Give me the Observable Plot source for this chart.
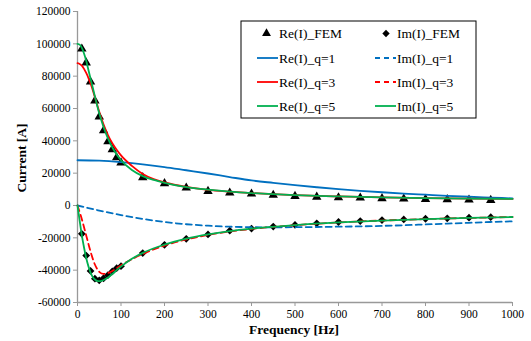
<!DOCTYPE html>
<html><head><meta charset="utf-8">
<script src="https://cdn.jsdelivr.net/npm/d3@7"></script>
<script src="https://cdn.jsdelivr.net/npm/@observablehq/plot@0.6"></script>
<style>
body{margin:0;background:#fff;}
#chart{position:relative;width:531px;height:341px;}
#chart svg, #chart svg text{font-family:'Liberation Serif', Tinos, 'Times New Roman', 'DejaVu Serif', serif;}
</style></head>
<body><div id="chart"></div>
<script>
// ---- data ----
const xTicks = [0,100,200,300,400,500,600,700,800,900,1000];
const yTicks = [-60000,-40000,-20000,0,20000,40000,60000,80000,100000,120000];

const fFEM  = [10,20,30,40,50,60,70,80,90,100,150,200,250,300,350,400,450,500,550,600,650,700,750,800,850,900,950];
const reFEM = [96900,88300,76500,64800,54900,46300,39500,34600,29600,26500,17300,13600,10900,8800,7800,7200,6400,5700,5300,4900,4700,4300,4100,3900,3700,3500,3300];
const imFEM = [-17500,-31000,-40500,-45300,-46300,-45000,-43000,-40800,-38800,-37500,-29400,-24300,-20600,-17900,-15600,-14300,-13000,-12000,-11000,-10200,-9600,-9000,-8600,-8200,-7900,-7500,-7200];

const fQ1  = [0,50,100,150,200,250,300,350,400,450,500,550,600,650,700,750,800,850,900,950,1000];
const reQ1 = [28000,27700,26800,25500,23800,21800,19800,17600,15500,14000,12600,11300,10100,9100,8200,7400,6700,6000,5400,4900,4400];
const imQ1 = [0,-3100,-5900,-8300,-10200,-11600,-12500,-13100,-13400,-13500,-13400,-13300,-13100,-12900,-12600,-12200,-11700,-11200,-10700,-10200,-9800];

const fReQ3 = [0,5,10,15,20,25,30,35,40,45,50,60,70,80,90,100,125,150,175,200,250,300,350,400,500,600,700,800,900,1000];
const reQ3  = [88000,87500,86500,84500,82000,79000,75500,71500,67000,62500,58000,50000,43500,38500,34500,31000,24500,19500,16300,14300,11500,9700,8600,7700,6400,5600,5000,4600,4300,4100];
const fImQ3 = [0,10,20,30,40,50,60,70,80,90,100,125,150,200,250,300,400,500,600,700,800,900,1000];
const imQ3  = [0,-8500,-18500,-28500,-36500,-41000,-42300,-41800,-40500,-38800,-37000,-33200,-30000,-24800,-21000,-18200,-14500,-12200,-10500,-9300,-8400,-7700,-7100];

const fReQ5 = [0,5,10,15,20,25,30,35,40,45,50,60,70,80,90,100,125,150,175,200,250,300,350,400,500,600,700,800,900,1000];
const reQ5  = [100000,99500,97500,94000,89500,84000,78500,73000,67500,62000,57000,48500,41500,36000,31500,28000,22000,18200,15800,14000,11300,9800,8600,7700,6400,5600,5000,4600,4300,4100];
const fImQ5 = [0,5,10,15,20,25,30,35,40,45,50,55,60,70,80,90,100,125,150,200,250,300,350,400,500,600,700,800,900,1000];
const imQ5  = [0,-9500,-18500,-26000,-32500,-37500,-41500,-44200,-45800,-46600,-46800,-46600,-46100,-44500,-42400,-40000,-37800,-33000,-29300,-24200,-20500,-17800,-15800,-14300,-12100,-10500,-9300,-8400,-7700,-7100];

const legendLabels = ["Re(I)_FEM","Im(I)_FEM","Re(I)_q=1","Im(I)_q=1","Re(I)_q=3","Im(I)_q=3","Re(I)_q=5","Im(I)_q=5"];

// ---- build ----
const BLUE = "#0070C0", RED = "#FF0000", GREEN = "#00B050";
const pts = (fs, vs) => fs.map((f,i) => ({f, v: vs[i]}));
const series = [
  {key:"Re(I)_q=1", data: pts(fQ1, reQ1), color: BLUE, dash: null},
  {key:"Im(I)_q=1", data: pts(fQ1, imQ1), color: BLUE, dash: "6,4"},
  {key:"Re(I)_q=3", data: pts(fReQ3, reQ3), color: RED, dash: null},
  {key:"Im(I)_q=3", data: pts(fImQ3, imQ3), color: RED, dash: "6,4"},
  {key:"Re(I)_q=5", data: pts(fReQ5, reQ5), color: GREEN, dash: null},
  {key:"Im(I)_q=5", data: pts(fImQ5, imQ5), color: GREEN, dash: null}
];
const FONT = "'Liberation Serif', Tinos, 'Times New Roman', 'DejaVu Serif', serif";

const plot = Plot.plot({
  width: 531, height: 341,
  marginLeft: 77, marginRight: 19, marginTop: 11, marginBottom: 39,
  style: {fontFamily: FONT, fontSize: "11.5px", color: "#000", background: "#fff"},
  x: {domain: [0,1000]},
  y: {domain: [-60000,120000]},
  marks: [
    Plot.axisX({ticks: xTicks, tickFormat: d => String(d), tickSize: 4, stroke: "#999", fill: "#000", label: null, tickPadding: 3}),
    Plot.axisY({ticks: yTicks, tickFormat: d => String(d), tickSize: 4, stroke: "#999", fill: "#000", label: null, tickPadding: 3}),
    Plot.ruleX([0], {stroke: "#999", strokeWidth: 1.3}),
    Plot.ruleY([-60000], {stroke: "#999", strokeWidth: 1.3}),
    Plot.dot(pts(fFEM, reFEM), {x: "f", y: "v", symbol: "triangle", r: 3.5, fill: "#000", stroke: null}),
    Plot.dot(pts(fFEM, imFEM), {x: "f", y: "v", symbol: "diamond2", r: 3.5, fill: "#000", stroke: null}),
    ...series.map(s => Plot.line(s.data, {x: "f", y: "v", stroke: s.color, strokeWidth: 1.8, strokeDasharray: s.dash, curve: "monotone-x"}))
  ]
});
document.getElementById("chart").appendChild(plot);

// ---- axis titles & legend ----
const svg = d3.select(plot);
svg.append("text").attr("x", 294).attr("y", 334).attr("text-anchor","middle")
  .attr("font-size","13.5px").attr("font-weight","bold").attr("fill","#000")
  .text("Frequency [Hz]");
svg.append("text").attr("transform","translate(26,158) rotate(-90)").attr("text-anchor","middle")
  .attr("font-size","13.5px").attr("font-weight","bold").attr("fill","#000")
  .text("Current [A]");

const lg = svg.append("g").attr("text-anchor","start");
lg.append("rect").attr("x",241).attr("y",21).attr("width",235).attr("height",97)
  .attr("fill","#fff").attr("stroke","#000").attr("stroke-width",1);
const rowsY = [33.5, 58, 82, 106];
const cols = [{sym: 266.5, l0: 257, l1: 278, tx: 279}, {sym: 386, l0: 375, l1: 396, tx: 397}];
legendLabels.forEach((lab, i) => {
  const c = cols[i % 2], y = rowsY[Math.floor(i / 2)];
  if (i < 2) {
    const sym = i === 0 ? d3.symbolTriangle : d3.symbolDiamond2;
    lg.append("path").attr("d", d3.symbol(sym, Math.PI * 3.3 * 3.3)()).attr("transform", `translate(${c.sym},${y})`).attr("fill","#000");
  } else {
    const s = series[i - 2];
    lg.append("line").attr("x1", c.l0).attr("x2", c.l1).attr("y1", y).attr("y2", y)
      .attr("stroke", s.color).attr("stroke-width", 1.8).attr("stroke-dasharray", s.dash ? "5,4" : null);
  }
  lg.append("text").attr("x", c.tx).attr("y", y).attr("dy","0.35em").attr("text-anchor","start")
    .attr("font-size","13.5px").attr("fill","#000").text(lab);
});
</script>
</body></html>
